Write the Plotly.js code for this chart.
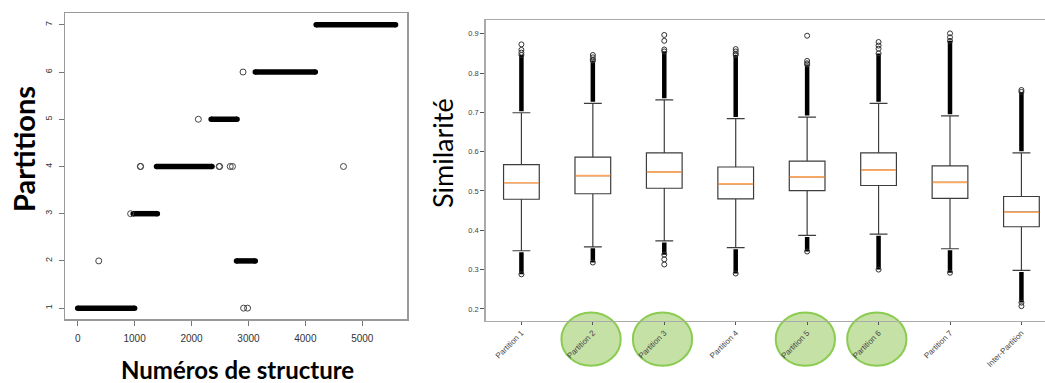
<!DOCTYPE html>
<html>
<head>
<meta charset="utf-8">
<script src="https://cdn.plot.ly/plotly-3.0.1.min.js"></script>
<style>html,body{margin:0;padding:0;background:#fff;}#chart{width:1045px;height:383px;}</style>
</head>
<body>
<div id="chart"></div>
<script>
// ---------- Left panel: partition assignment of each structure ----------
// continuous runs of structures assigned to a partition
const runPartition = [1, 3, 4, 5, 2, 6, 7];
const runStart     = [0, 975, 1385, 2345, 2790, 3120, 4190];
const runEnd       = [1000, 1400, 2360, 2800, 3120, 4175, 5585];
// isolated structures
const isoStructure = [370, 930, 1100, 1106, 2120, 2485, 2495, 2680, 2720, 2905, 2915, 2985, 4670];
const isoPartition = [2, 3, 4, 4, 5, 4, 4, 4, 4, 6, 1, 1, 4];
const leftXTicks = [0, 1000, 2000, 3000, 4000, 5000];
const leftYTicks = [1, 2, 3, 4, 5, 6, 7];

// ---------- Right panel: similarity box plots ----------
const boxLabels = ['Partition 1','Partition 2','Partition 3','Partition 4','Partition 5','Partition 6','Partition 7','Inter-Partition'];
const q1        = [0.479, 0.493, 0.507, 0.480, 0.501, 0.514, 0.481, 0.409];
const medians   = [0.521, 0.539, 0.548, 0.518, 0.536, 0.553, 0.522, 0.446];
const q3        = [0.567, 0.586, 0.597, 0.561, 0.576, 0.597, 0.564, 0.486];
const upperWhisker = [0.699, 0.723, 0.732, 0.684, 0.688, 0.723, 0.691, 0.597];
const lowerWhisker = [0.348, 0.358, 0.373, 0.356, 0.387, 0.390, 0.353, 0.298];
// dense outlier columns (extent of the packed fliers)
const upperDenseTo = [0.846, 0.832, 0.855, 0.846, 0.822, 0.850, 0.882, 0.752];
const lowerDenseTo = [0.288, 0.318, 0.338, 0.290, 0.346, 0.300, 0.292, 0.216];
// sparse fliers: [box index, value]
const sparseBox   = [0, 0, 0, 1, 1, 1, 2, 2, 2, 2, 2, 3, 3, 3, 4, 4, 4, 5, 5, 5, 6, 6, 7, 7];
const sparseValue = [0.852, 0.859, 0.873, 0.834, 0.840, 0.846, 0.860, 0.882, 0.897, 0.326, 0.313, 0.849, 0.855, 0.861, 0.825, 0.831, 0.895, 0.862, 0.870, 0.879, 0.891, 0.901, 0.757, 0.207];
const highlighted = [2, 3, 5, 6];
const rightYTicks = [0.2, 0.3, 0.4, 0.5, 0.6, 0.7, 0.8, 0.9];

// ---------- traces ----------
const traces = [];
// runs: thick black capsules
const runX = [], runY = [];
runPartition.forEach((p, i) => { runX.push(runStart[i], runEnd[i], null); runY.push(p, p, null); });
traces.push({type:'scatter', mode:'lines+markers', x: runX, y: runY, xaxis:'x', yaxis:'y',
  line:{color:'#000', width:5.5}, marker:{color:'#000', size:5.5, symbol:'circle'}, hoverinfo:'skip', showlegend:false});
traces.push({type:'scatter', mode:'markers', x: isoStructure, y: isoPartition, xaxis:'x', yaxis:'y',
  marker:{symbol:'circle-open', size:6, color:'#444', line:{width:1}}, showlegend:false});

const pos = boxLabels.map((_, i) => i + 1);
traces.push({type:'box', x: pos, q1: q1, median: medians, q3: q3,
  lowerfence: lowerWhisker, upperfence: upperWhisker, xaxis:'x2', yaxis:'y2',
  width: 0.5, whiskerwidth: 0.5, fillcolor:'#fff', line:{color:'#3c3c3c', width:1.2},
  boxpoints:false, showlegend:false});
// orange medians
const medX = [], medY = [];
pos.forEach((p, i) => { medX.push(p - 0.245, p + 0.245, null); medY.push(medians[i], medians[i], null); });
traces.push({type:'scatter', mode:'lines', x: medX, y: medY, xaxis:'x2', yaxis:'y2',
  line:{color:'#ffa860', width:1.6}, hoverinfo:'skip', showlegend:false});
// dense flier columns
const colX = [], colY = [], endX = [], endY = [];
pos.forEach((p, i) => {
  colX.push(p, p, null, p, p, null);
  colY.push(upperWhisker[i] + 0.004, upperDenseTo[i], null, lowerWhisker[i] - 0.004, lowerDenseTo[i], null);
  endX.push(p, p); endY.push(upperDenseTo[i], lowerDenseTo[i]);
});
traces.push({type:'scatter', mode:'lines', x: colX, y: colY, xaxis:'x2', yaxis:'y2',
  line:{color:'#000', width:4.5}, hoverinfo:'skip', showlegend:false});
traces.push({type:'scatter', mode:'markers', x: endX.concat(sparseBox.map(b => pos[b])), y: endY.concat(sparseValue),
  xaxis:'x2', yaxis:'y2', marker:{symbol:'circle-open', size:5, color:'#333', line:{width:1}}, showlegend:false});

// highlight ellipses
const shapes = highlighted.map(h => ({type:'circle', xref:'x2', yref:'paper', layer:'below',
  x0: h - 0.44, x1: h + 0.39, y0: 0.045, y1: 0.184,
  fillcolor:'#c6e1a6', line:{color:'#8ccb52', width:2}}));

const W = 1045, H = 383;
const layout = {
  width: W, height: H, margin:{l:0, r:0, t:0, b:0},
  paper_bgcolor:'#fff', plot_bgcolor:'#fff', showlegend:false,
  font:{family:'Liberation Sans, Arial, sans-serif'},
  xaxis:{domain:[65/W, 407/W], range:[-223, 5786], anchor:'y', tickvals: leftXTicks,
    ticks:'outside', ticklen:5, tickcolor:'#777', showline:true, mirror:true, linecolor:'#999', linewidth:1.5,
    showgrid:false, zeroline:false, tickfont:{size:10, color:'#333'}, ticklabelstandoff:4},
  yaxis:{domain:[1-319/H, 1-13/H], range:[0.77, 7.25], anchor:'x', tickvals: leftYTicks, tickangle:-90,
    ticks:'outside', ticklen:5, tickcolor:'#777', showline:true, mirror:true, linecolor:'#999', linewidth:1.5,
    showgrid:false, zeroline:false, tickfont:{size:9, color:'#333'}, ticklabelstandoff:3},
  xaxis2:{domain:[485.7/W, 1], range:[0.5, 8.33], anchor:'y2', tickvals: pos, ticktext: boxLabels, tickangle:-45,
    ticks:'outside', ticklen:3, tickcolor:'#555', showline:true, mirror:true, linecolor:'#aaa', linewidth:1.5,
    showgrid:false, zeroline:false, tickfont:{size:8, color:'#444'}},
  yaxis2:{domain:[1-320.7/H, 1-20/H], range:[0.170, 0.935], anchor:'x2', tickvals: rightYTicks, tickformat:'.1f',
    ticks:'outside', ticklen:4, tickcolor:'#555', showline:true, mirror:false, linecolor:'#aaa', linewidth:1.5,
    showgrid:false, zeroline:false, tickfont:{size:7.5, color:'#444'}},
  shapes: shapes,
  annotations:[
    {text:'Partitions', xref:'paper', yref:'paper', x:23/W, y:1-149/H, xanchor:'center', yanchor:'middle',
      textangle:-90, showarrow:false,
      font:{family:'Lato, Noto Sans, sans-serif', size:29, color:'#000', weight:'bold'}},
    {text:'Numéros de structure', xref:'paper', yref:'paper', x:237/W, y:1-369/H, xanchor:'center', yanchor:'middle',
      showarrow:false,
      font:{family:'Lato, Noto Sans, sans-serif', size:24, color:'#000', weight:'bold'}},
    {text:'Similarité', xref:'paper', yref:'paper', x:442/W, y:1-153/H, xanchor:'center', yanchor:'middle',
      textangle:-90, showarrow:false,
      font:{family:'Lato, Noto Sans, sans-serif', size:27, color:'#000'}}
  ]
};
Plotly.newPlot('chart', traces, layout, {displayModeBar:false, staticPlot:true});
</script>
</body>
</html>
